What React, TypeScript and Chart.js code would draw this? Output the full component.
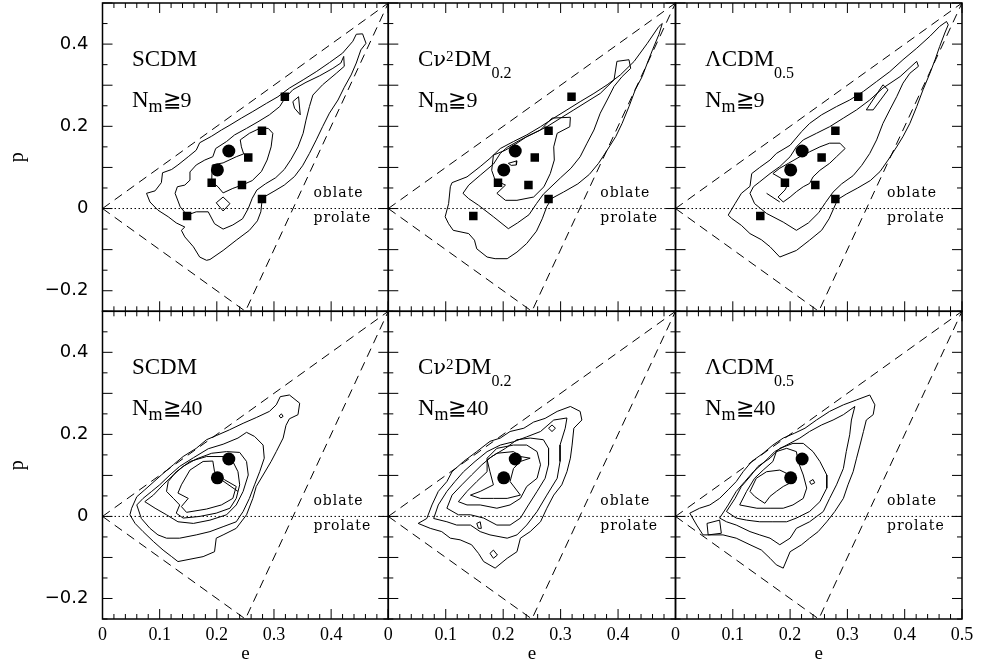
import React, { useEffect, useRef } from 'react';
import { Chart, registerables } from 'chart.js';

Chart.register(...registerables);

// ---------- data ----------
const xTicksInner = [0, 0.1, 0.2, 0.3, 0.4];
const xTicksLast = [0, 0.1, 0.2, 0.3, 0.4, 0.5];
const yTicks = [-0.2, 0, 0.2, 0.4];

const observedCircles = [0.221, 0.140, 0.201, 0.094];
const clusterSquares = [0.319, 0.272, 0.279, 0.189, 0.255, 0.124, 0.191, 0.063, 0.244, 0.057, 0.279, 0.023, 0.148, -0.018];

const boundaryUpper = [0, 0, 0.5, 0.5];
const boundaryLower = [0, 0, 0.25, -0.25, 0.5, 0.5];
const zeroLine = [0, 0, 0.5, 0];

const modelParts: [string, string][][] = [
  [['SCDM', 'n']],
  [['C', 'n'], ['\u03bd', 'greek'], ['2', 'sup'], ['DM', 'n'], ['0.2', 'sub']],
  [['\u039bCDM', 'n'], ['0.5', 'sub']],
];
const massCuts = ['9', '40'];
const shapeWords = ['oblate', 'prolate'];

const scdm9: number[][] = [
  [.077,.037,.092,.043,.103,.063,.105,.087,.121,.095,.132,.106,.150,.126,.164,.142,.170,.160,.191,.176,.208,.191,.223,.203,.243,.220,.263,.236,.287,.256,.307,.272,.327,.293,.351,.313,.374,.333,.397,.355,.420,.378,.438,.407,.444,.424,.455,.425,.461,.402,.452,.386,.444,.354,.435,.325,.423,.295,.412,.264,.397,.232,.385,.199,.374,.167,.362,.134,.350,.104,.336,.078,.318,.057,.300,.042,.285,.030,.279,.018,.277,-.008,.271,-.030,.257,-.053,.234,-.077,.211,-.102,.188,-.124,.182,-.126,.170,-.118,.159,-.093,.144,-.069,.138,-.053,.144,-.045,.129,-.035,.115,-.020,.097,-.004,.083,.016],
  [.127,.037,.131,.053,.144,.057,.153,.069,.153,.089,.164,.106,.179,.118,.193,.126,.198,.146,.217,.163,.231,.179,.252,.195,.272,.211,.292,.228,.310,.248,.319,.268,.333,.289,.356,.307,.380,.323,.403,.341,.417,.354,.422,.370,.423,.346,.409,.329,.385,.301,.368,.276,.362,.248,.356,.215,.351,.183,.342,.150,.330,.120,.318,.095,.303,.075,.285,.060,.270,.045,.262,.025,.255,.000,.245,-.025,.228,-.040,.211,-.050,.196,-.037,.185,-.008,.164,-.008,.148,-.016,.136,.004],
  [.191,.065,.192,.106,.211,.111,.234,.126,.247,.133,.243,.150,.241,.167,.257,.183,.275,.195,.290,.195,.298,.183,.295,.150,.288,.118,.278,.090,.262,.068,.244,.057,.228,.049,.211,.038,.202,.053],
  [.199,.014,.211,.028,.223,.012,.211,-.006],
  [.333,.260,.343,.272,.346,.228,.336,.244],
];

const cnu9: number[][] = [
  [.099,-.020,.105,.012,.108,.053,.111,.063,.137,.077,.160,.102,.177,.122,.195,.146,.218,.163,.241,.179,.265,.199,.288,.220,.311,.240,.334,.260,.358,.280,.381,.301,.404,.325,.428,.358,.451,.402,.471,.443,.477,.450,.471,.423,.460,.386,.451,.354,.442,.321,.430,.289,.419,.248,.407,.207,.396,.175,.381,.142,.366,.110,.350,.083,.330,.060,.305,.040,.285,.025,.276,.005,.268,-.025,.258,-.055,.241,-.085,.224,-.106,.207,-.122,.186,-.122,.172,-.118,.154,-.098,.150,-.077,.140,-.061,.113,-.053,.105,-.037],
  [.130,.037,.140,.057,.160,.081,.183,.108,.195,.134,.207,.149,.230,.167,.253,.183,.276,.199,.300,.220,.323,.240,.346,.260,.369,.280,.393,.313,.398,.358,.419,.362,.422,.341,.407,.321,.393,.297,.381,.264,.369,.232,.358,.191,.346,.159,.334,.126,.318,.098,.300,.075,.285,.055,.270,.035,.258,.012,.245,-.015,.225,-.035,.209,-.049,.183,-.020,.157,.008,.140,.024],
  [.180,.093,.183,.130,.204,.142,.224,.159,.241,.175,.265,.191,.285,.220,.317,.222,.316,.199,.294,.183,.288,.150,.289,.118,.282,.085,.271,.053,.253,.028,.224,.020,.204,.020,.189,.037,.204,.057,.186,.069],
  [.209,.110,.224,.116,.223,.106,.214,.105],
];

const lcdm9: number[][] = [
  [.092,-.016,.104,.012,.115,.037,.130,.054,.133,.085,.147,.100,.165,.118,.176,.134,.200,.154,.220,.187,.234,.207,.255,.228,.281,.248,.304,.264,.328,.285,.351,.309,.374,.333,.397,.362,.421,.390,.444,.419,.461,.443,.473,.455,.476,.447,.470,.427,.461,.394,.453,.362,.444,.329,.432,.289,.421,.248,.409,.207,.397,.175,.386,.150,.371,.118,.357,.090,.340,.068,.318,.050,.298,.035,.283,.022,.276,.000,.268,-.025,.255,-.053,.234,-.077,.211,-.102,.182,-.118,.165,-.093,.150,-.076,.130,-.061,.115,-.041,.098,-.024],
  [.130,.037,.136,.053,.147,.065,.165,.085,.182,.102,.200,.126,.211,.150,.223,.167,.246,.183,.269,.199,.293,.220,.316,.240,.339,.264,.362,.293,.392,.321,.421,.358,.424,.346,.409,.329,.397,.305,.386,.272,.374,.240,.362,.207,.351,.167,.339,.134,.325,.105,.310,.080,.290,.060,.275,.040,.262,.015,.250,-.010,.232,-.035,.211,-.053,.188,-.033,.159,-.012,.138,.012],
  [.170,.085,.182,.098,.197,.110,.217,.126,.234,.138,.252,.150,.269,.159,.287,.159,.296,.146,.281,.126,.269,.110,.252,.093,.240,.077,.234,.061,.223,.053,.211,.041,.200,.028,.188,.016,.179,.028,.191,.045,.197,.061,.185,.073],
  [.333,.240,.362,.301,.371,.289,.345,.240],
  [.159,.037,.182,.016],
];

const scdm40: number[][] = [
  [.051,.020,.060,.048,.074,.065,.103,.101,.124,.126,.141,.146,.164,.166,.182,.187,.199,.197,.222,.211,.246,.227,.269,.241,.292,.256,.304,.272,.311,.292,.327,.296,.345,.276,.342,.248,.327,.238,.321,.222,.316,.191,.304,.158,.295,.134,.281,.101,.269,.073,.263,.044,.252,.004,.234,-.029,.211,-.045,.199,-.053,.196,-.086,.176,-.098,.132,-.110,.121,-.098,.106,-.082,.089,-.061,.071,-.037,.057,-.017,.048,.004],
  [.060,.028,.071,.044,.086,.061,.100,.077,.118,.101,.135,.122,.159,.143,.185,.165,.211,.176,.237,.191,.252,.205,.266,.195,.281,.174,.283,.142,.275,.109,.266,.077,.257,.044,.246,.012,.234,-.013,.211,-.025,.188,-.037,.164,-.045,.135,-.053,.112,-.053,.097,-.045,.083,-.029,.068,-.005],
  [.074,.036,.089,.052,.106,.077,.124,.101,.141,.122,.164,.140,.191,.154,.217,.158,.240,.156,.252,.134,.255,.101,.246,.061,.234,.028,.217,.004,.188,-.009,.159,-.017,.132,-.013,.112,.004,.092,.020],
  [.112,.061,.115,.085,.129,.109,.153,.134,.182,.146,.211,.146,.228,.134,.237,.109,.240,.077,.234,.044,.223,.020,.199,.008,.170,.000,.141,-.004,.129,.008,.135,.028,.124,.044],
  [.138,.077,.153,.113,.176,.134,.193,.135,.196,.109,.214,.089,.234,.073,.228,.044,.208,.028,.182,.018,.147,.010,.138,.024,.150,.044,.132,.057],
  [.309,.245,.313,.250,.316,.244,.312,.240],
  [.201,.096,.237,.061],
  [.221,.140,.221,.126],
];

const cnu40: number[][] = [
  [.052,-.017,.067,-.005,.076,.028,.087,.061,.102,.085,.111,.109,.131,.134,.154,.158,.177,.183,.195,.191,.212,.207,.236,.215,.253,.230,.273,.239,.294,.256,.317,.268,.334,.256,.337,.235,.323,.215,.320,.174,.317,.142,.311,.109,.302,.077,.288,.052,.276,.020,.265,-.013,.247,-.037,.230,-.053,.224,-.086,.207,-.102,.186,-.126,.166,-.110,.157,-.090,.145,-.069,.125,-.057,.108,-.053,.093,-.037,.073,-.029],
  [.079,-.005,.087,.028,.102,.061,.116,.085,.131,.109,.151,.134,.172,.158,.195,.174,.218,.182,.241,.194,.265,.207,.288,.235,.311,.240,.308,.215,.299,.174,.299,.134,.294,.093,.276,.052,.259,.012,.241,-.021,.224,-.045,.207,-.053,.177,-.045,.160,-.037,.143,-.021,.119,-.021,.102,-.013],
  [.102,.020,.111,.052,.128,.077,.145,.101,.163,.126,.180,.146,.204,.166,.224,.187,.247,.191,.270,.187,.279,.166,.279,.126,.273,.093,.259,.061,.244,.028,.230,-.004,.212,-.021,.189,-.021,.166,-.004,.143,.004,.122,.004],
  [.122,.036,.137,.061,.154,.085,.172,.109,.172,.142,.189,.166,.218,.174,.241,.174,.259,.158,.265,.126,.259,.093,.241,.073,.230,.044,.212,.028,.189,.020,.160,.028,.137,.028],
  [.143,.052,.160,.061,.183,.077,.177,.109,.172,.138,.189,.154,.218,.158,.230,.146,.247,.142,.230,.134,.218,.117,.212,.085,.230,.052,.207,.044,.183,.044,.160,.044],
  [.279,.215,.285,.223,.291,.215,.285,.207],
  [.177,-.090,.183,-.082,.190,-.094,.183,-.102],
  [.154,-.017,.160,-.013,.162,-.029,.157,-.029],
];

const lcdm40: number[][] = [
  [.025,.008,.042,.020,.060,.028,.077,.044,.092,.065,.106,.085,.118,.109,.133,.134,.153,.154,.170,.174,.188,.191,.208,.203,.226,.215,.246,.235,.269,.256,.293,.272,.316,.284,.339,.296,.348,.272,.345,.248,.333,.235,.328,.207,.322,.174,.316,.142,.310,.109,.301,.077,.293,.044,.278,.012,.264,-.013,.249,-.037,.234,-.053,.220,-.069,.200,-.086,.188,-.126,.176,-.118,.165,-.102,.150,-.082,.130,-.069,.106,-.053,.083,-.045,.048,-.045,.037,-.021],
  [.077,-.004,.092,.028,.106,.061,.121,.085,.136,.109,.156,.134,.173,.158,.194,.174,.217,.191,.234,.207,.255,.223,.275,.235,.293,.248,.313,.268,.307,.235,.304,.199,.298,.158,.293,.117,.281,.077,.269,.044,.258,.012,.234,-.013,.211,-.029,.200,-.053,.182,-.069,.165,-.053,.147,-.045,.130,-.037,.106,-.021,.089,-.013],
  [.089,.012,.104,.044,.115,.073,.130,.097,.144,.122,.165,.142,.182,.166,.205,.178,.223,.178,.240,.158,.252,.134,.264,.101,.264,.069,.252,.036,.234,.012,.211,-.004,.194,-.013,.170,-.013,.147,-.013,.124,-.009,.106,-.004],
  [.112,.028,.124,.061,.138,.093,.153,.113,.170,.134,.176,.158,.194,.166,.211,.158,.214,.134,.223,.101,.229,.069,.223,.044,.205,.028,.188,.020,.165,.020,.142,.020],
  [.130,.061,.141,.093,.159,.109,.182,.113,.200,.101,.205,.085,.188,.073,.176,.061,.165,.049,.156,.032,.147,.040,.138,.049],
  [.055,-.017,.077,-.009,.080,-.041,.057,-.045],
  [.234,.085,.240,.090,.243,.082,.237,.078],
];

const panelContours = [scdm9, cnu9, lcdm9, scdm40, cnu40, lcdm40];

// ---------- layout ----------
const W = 981;
const H = 664;
const COLS = [102.5, 388.3, 675.5, 962];
const ROWS = [3, 311.3, 619];
const SERIF = "'Liberation Serif', 'DejaVu Serif', serif";

function toPts(flat: number[], close: boolean) {
  const out: { x: number; y: number }[] = [];
  for (let i = 0; i < flat.length; i += 2) out.push({ x: flat[i], y: flat[i + 1] });
  if (close && flat.length > 4) out.push({ x: flat[0], y: flat[1] });
  return out;
}

function fmt(v: number) {
  if (Math.abs(v) < 1e-9) return '0';
  return (v < 0 ? '\u2212' : '') + Math.abs(v).toFixed(1);
}

function drawRich(ctx: CanvasRenderingContext2D, parts: [string, string][], x: number, y: number) {
  let cx = x;
  for (const [t, role] of parts) {
    let size = 23;
    let dy = 0;
    let family = SERIF;
    if (role === 'sup') { size = 15; dy = -5; }
    if (role === 'sub') { size = 16; dy = 12; }
    if (role === 'msub') { size = 18; dy = 5.5; }
    if (role === 'big') { size = 22; }
    if (role === 'greek') { size = 21; family = "'DejaVu Serif', serif"; }
    ctx.font = `${size}px ${family}`;
    ctx.fillText(t, cx, y + dy);
    cx += ctx.measureText(t).width + (role === 'sup' ? 1 : 0);
  }
}

const decorPlugin = {
  id: 'decor',
  afterDraw(chart: any, _args: any, opts: any) {
    const { ctx, chartArea: a, scales } = chart;
    const xs = scales.x;
    const ys = scales.y;
    ctx.save();
    ctx.strokeStyle = '#000';
    ctx.fillStyle = '#000';
    ctx.lineWidth = 1;
    ctx.beginPath();
    for (let i = 0; i <= 25; i++) {
      const px = xs.getPixelForValue(i * 0.02);
      const len = i % 5 === 0 ? 10 : 5;
      ctx.moveTo(px, a.bottom); ctx.lineTo(px, a.bottom - len);
      ctx.moveTo(px, a.top); ctx.lineTo(px, a.top + len);
    }
    for (let i = 0; i <= 15; i++) {
      const py = ys.getPixelForValue(-0.25 + i * 0.05);
      const len = i % 2 === 1 ? 10 : 5;
      ctx.moveTo(a.left, py); ctx.lineTo(a.left + len, py);
      ctx.moveTo(a.right, py); ctx.lineTo(a.right - len, py);
    }
    ctx.stroke();
    ctx.lineWidth = 1.5;
    ctx.strokeRect(a.left, a.top, a.right - a.left, a.bottom - a.top);

    ctx.textBaseline = 'alphabetic';
    ctx.textAlign = 'left';
    const lx = xs.getPixelForValue(0.0515);
    drawRich(ctx, modelParts[opts.model], lx, ys.getPixelForValue(0.346));
    drawRich(ctx, [['N', 'n'], ['m', 'msub'], ['\u2267' + massCuts[opts.cut], 'big']], lx, ys.getPixelForValue(0.248));

    ctx.font = `14px 'DejaVu Serif', serif`;
    (ctx as any).letterSpacing = '1px';
    ctx.fillText(shapeWords[0], xs.getPixelForValue(0.369), ys.getPixelForValue(0.028));
    ctx.fillText(shapeWords[1], xs.getPixelForValue(0.369), ys.getPixelForValue(-0.033));
    (ctx as any).letterSpacing = '0px';
    ctx.restore();
  },
};

function buildConfig(index: number): any {
  const col = index % 3;
  const row = Math.floor(index / 3);
  const left = COLS[col];
  const right = COLS[col + 1];
  const top = ROWS[row];
  const bottom = ROWS[row + 1];
  const yw = 94.5;
  const xh = 45;

  const lineDs = (flat: number[], close: boolean, extra: any = {}) => ({
    data: toPts(flat, close),
    showLine: true,
    borderColor: '#000',
    borderWidth: 1,
    pointRadius: 0,
    fill: false,
    tension: 0,
    ...extra,
  });

  const datasets: any[] = [];
  datasets.push({
    data: toPts(observedCircles, false),
    pointStyle: 'circle',
    pointRadius: 6.5,
    backgroundColor: '#000',
    borderColor: '#000',
    borderWidth: 0,
    showLine: false,
  });
  if (row === 0) {
    datasets.push({
      data: toPts(clusterSquares, false),
      pointStyle: 'rect',
      pointRadius: 6,
      backgroundColor: '#000',
      borderColor: '#000',
      borderWidth: 0,
      showLine: false,
    });
  }
  for (const c of panelContours[index]) datasets.push(lineDs(c, true));
  datasets.push(lineDs(boundaryUpper, false, { borderDash: [9, 6] }));
  datasets.push(lineDs(boundaryLower, false, { borderDash: [9, 6] }));
  datasets.push(lineDs(zeroLine, false, { borderDash: [1.5, 2.5] }));

  return {
    type: 'scatter',
    data: { datasets },
    plugins: [decorPlugin],
    options: {
      responsive: false,
      animation: false,
      events: [],
      layout: {
        autoPadding: false,
        padding: {
          left: col === 0 ? left - yw : left,
          right: W - right,
          top,
          bottom: row === 1 ? H - bottom - xh : H - bottom,
        },
      },
      plugins: {
        legend: { display: false },
        tooltip: { enabled: false },
        decor: { model: col, cut: row },
      },
      scales: {
        x: {
          type: 'linear',
          min: 0,
          max: 0.5,
          display: row === 1,
          afterBuildTicks: (s: any) => {
            s.ticks = (col === 2 ? xTicksLast : xTicksInner).map((v) => ({ value: v }));
          },
          afterFit: row === 1 ? (s: any) => { s.height = xh; s.paddingLeft = 0; s.paddingRight = 0; } : undefined,
          ticks: {
            callback: (v: any) => fmt(Number(v)),
            font: { family: SERIF, size: 18, lineHeight: 1 },
            color: '#000',
            padding: 7,
            maxRotation: 0,
            autoSkip: false,
          },
          grid: { display: false, drawTicks: false },
          border: { display: false },
          title: { display: true, text: 'e', color: '#000', padding: 0, font: { family: SERIF, size: 19, lineHeight: 1 } },
        },
        y: {
          type: 'linear',
          min: -0.25,
          max: 0.5,
          display: col === 0,
          afterBuildTicks: (s: any) => {
            s.ticks = yTicks.map((v) => ({ value: v }));
          },
          afterFit: col === 0 ? (s: any) => { s.width = yw; s.paddingTop = 0; s.paddingBottom = 0; } : undefined,
          ticks: {
            callback: (v: any) => fmt(Number(v)),
            font: { family: "'DejaVu Sans', sans-serif", size: 18, lineHeight: 1 },
            color: '#000',
            padding: 14,
            autoSkip: false,
          },
          grid: { display: false, drawTicks: false },
          border: { display: false },
          title: { display: true, text: 'p', color: '#000', padding: 0, font: { family: SERIF, size: 20, lineHeight: 1 } },
        },
      },
    },
  };
}

function Panel({ index }: { index: number }) {
  const ref = useRef<HTMLCanvasElement>(null);
  useEffect(() => {
    const chart = new Chart(ref.current as HTMLCanvasElement, buildConfig(index));
    return () => chart.destroy();
  }, [index]);
  return (
    <canvas
      ref={ref}
      width={W}
      height={H}
      style={{ position: 'absolute', left: 0, top: 0, width: W, height: H }}
    />
  );
}

export default function App() {
  return (
    <div style={{ position: 'fixed', left: 0, top: 0, width: W, height: H, background: '#fff' }}>
      {[0, 1, 2, 3, 4, 5].map((i) => (
        <Panel key={i} index={i} />
      ))}
    </div>
  );
}
